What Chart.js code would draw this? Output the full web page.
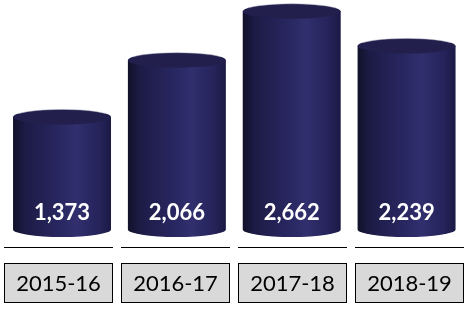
<!DOCTYPE html>
<html>
<head>
<meta charset="utf-8">
<script src="https://cdn.jsdelivr.net/npm/chart.js@4.4.1/dist/chart.umd.min.js"></script>
<style>
  html, body { margin: 0; padding: 0; background: #ffffff; }
  #wrap { width: 467px; height: 309px; }
</style>
</head>
<body>
<div id="wrap"><canvas id="cylChart" width="467" height="309"></canvas></div>
<script>
// data
const years = ['2015-16', '2016-17', '2017-18', '2018-19'];
const totals = [1373, 2066, 2662, 2239];

const RY = 7.5; // ellipse half-height of cylinder caps

// draw each bar as a cylinder, using the bar element positions
const cylinderPlugin = {
  id: 'cylinders',
  afterDatasetsDraw(chart) {
    const ctx = chart.ctx;
    const meta = chart.getDatasetMeta(0);
    meta.data.forEach((bar, i) => {
      const x = bar.x, top = bar.y, base = bar.base, rx = bar.width / 2;
      const left = x - rx, right = x + rx;

      const grad = ctx.createLinearGradient(left, 0, right, 0);
      grad.addColorStop(0, '#121129');
      grad.addColorStop(0.12, '#1c1b45');
      grad.addColorStop(0.45, '#28265f');
      grad.addColorStop(0.65, '#312f6d');
      grad.addColorStop(0.88, '#25235a');
      grad.addColorStop(1, '#1b1a44');

      ctx.save();
      // body
      ctx.beginPath();
      ctx.moveTo(left, top);
      ctx.lineTo(left, base);
      ctx.ellipse(x, base, rx, RY, 0, Math.PI, 0, true);
      ctx.lineTo(right, top);
      ctx.closePath();
      ctx.fillStyle = grad;
      ctx.fill();

      // top cap
      ctx.beginPath();
      ctx.ellipse(x, top, rx, RY, 0, 0, Math.PI * 2);
      ctx.fillStyle = '#221f4d';
      ctx.fill();
      ctx.beginPath();
      ctx.ellipse(x, top, rx, RY, 0, Math.PI * 1.15, Math.PI * 1.85);
      ctx.strokeStyle = 'rgba(170,170,190,0.45)';
      ctx.lineWidth = 1;
      ctx.stroke();

      // value label
      ctx.fillStyle = '#ffffff';
      ctx.font = 'bold 22px Lato';
      ctx.textAlign = 'center';
      ctx.textBaseline = 'middle';
      ctx.fillText(totals[i].toLocaleString('en-US'), x, base - 17);
      ctx.restore();
    });
  }
};

// separator lines and grey label boxes under the bars
const labelBoxPlugin = {
  id: 'labelBoxes',
  afterDraw(chart) {
    const ctx = chart.ctx;
    const boxW = 109, gap = 8, startX = 4;
    ctx.save();
    years.forEach((yr, i) => {
      const bx = startX + i * (boxW + gap);
      ctx.beginPath();
      ctx.moveTo(bx, 247.5);
      ctx.lineTo(bx + boxW, 247.5);
      ctx.strokeStyle = '#000000';
      ctx.lineWidth = 1;
      ctx.stroke();

      ctx.fillStyle = '#d9d9d9';
      ctx.fillRect(bx, 263, boxW, 40);
      ctx.strokeRect(bx + 0.5, 263.5, boxW - 1, 39);

      ctx.fillStyle = '#000000';
      ctx.font = '22px Lato';
      ctx.textAlign = 'center';
      ctx.textBaseline = 'middle';
      ctx.fillText(yr, bx + boxW / 2, 284);
    });
    ctx.restore();
  }
};

new Chart(document.getElementById('cylChart'), {
  type: 'bar',
  data: {
    labels: years,
    datasets: [{
      data: totals,
      backgroundColor: 'rgba(0,0,0,0)',
      categoryPercentage: 1,
      barPercentage: 0.853
    }]
  },
  options: {
    responsive: false,
    animation: false,
    layout: { padding: { left: 4.6, right: 3, top: 0, bottom: 79.5 } },
    plugins: { legend: { display: false }, tooltip: { enabled: false } },
    scales: {
      x: { display: false },
      y: { display: false, min: 0, max: 2800 }
    }
  },
  plugins: [cylinderPlugin, labelBoxPlugin]
});
</script>
</body>
</html>
